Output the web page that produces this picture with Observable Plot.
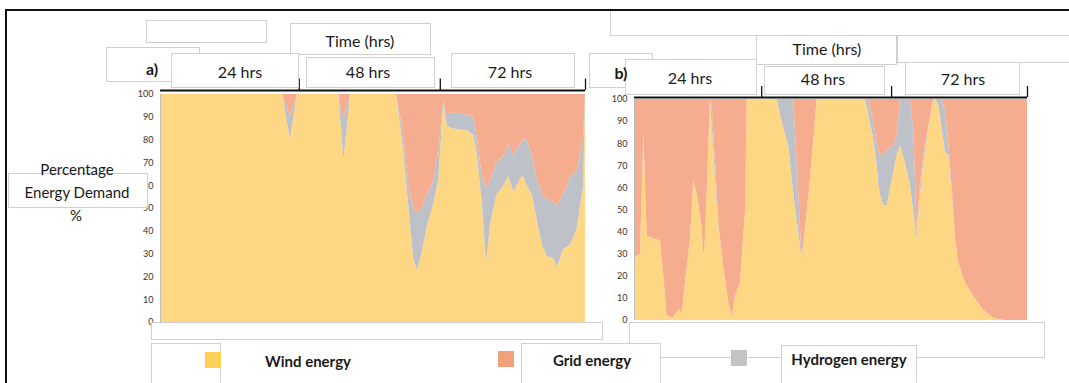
<!DOCTYPE html>
<html><head><meta charset="utf-8">
<script src="https://cdn.jsdelivr.net/npm/d3@7"></script>
<script src="https://cdn.jsdelivr.net/npm/@observablehq/plot@0.6"></script>
<style>
body{margin:0;background:#fff;}
#root{position:relative;width:1069px;height:383px;overflow:hidden;font-family:Lato,"Open Sans",sans-serif;color:#1a1a1a;background:#fff}
.frame{position:absolute;left:5px;top:9px;width:1100px;height:400px;border-top:2px solid #111;border-left:2px solid #111;box-sizing:border-box}
.box{position:absolute;background:#fff;border:1px solid #d0d0d0;box-sizing:border-box}
.lbl{position:absolute;white-space:nowrap;transform:translate(-50%,-50%);line-height:1}
.chart{position:absolute}
.sq{position:absolute;width:16px;height:16px}
</style></head><body><div id="root"></div>
<script>
// ---------- data ----------
const sources = ["Wind energy", "Hydrogen energy", "Grid energy"];
const fills = ["#FDD784", "#BFC1C8", "#F6AC8E"];
const legendFills = ["#FFD257", "#C3C3C3", "#F1A27C"];
const yTicks = [0,10,20,30,40,50,60,70,80,90,100];
const timeLabels = ["24 hrs", "48 hrs", "72 hrs"];

// panel a) time (hrs) and % shares
const hoursA = [0,20.7,22.0,23.2,30.2,31.1,32.2,40.0,41.2,42.1,42.9,43.5,44.3,45.2,46.3,47.1,48.0,48.6,49.5,52.0,53.1,53.6,54.5,55.1,55.3,55.9,57.0,58.2,59.0,59.9,60.4,61.0,61.5,62.1,63.0,63.8,64.7,65.5,66.6,67.2,68.3,69.5,70.6,71.7,72.0];
const windA  = [100,100,80,100,100,71,100,100,75,50,28,23,30,42,52,62,96,86,85,84,82,75,53,31,27,43,56,60,64,57,60,63,64,60,56,45,34,29,28,24,32,34,41,60,100];
const hydA   = [0,0,10,0,0,18,0,0,7,10,22,25,20,14,10,13,1,5,7,7,8,7,11,29,32,19,14,13,14,16,16,15,16,20,17,18,22,25,25,27,24,30,25,22,0];
const gridA  = [0,0,10,0,0,11,0,0,18,40,50,52,50,44,38,25,3,9,8,9,10,18,36,40,41,38,30,27,22,27,24,22,20,20,27,37,44,46,47,49,44,36,34,18,0];
const ticksA = [23.5, 47.4, 72];

// panel b)
const hoursB = [0,1.10,1.71,2.32,4.76,5.37,5.99,7.0,8.2,8.74,9.34,10.26,10.86,11.49,12.40,12.70,13.01,13.61,13.92,14.24,14.84,15.45,16.36,17.28,17.90,18.50,19.42,20.34,20.65,26.14,26.75,27.35,28.27,29.19,29.81,30.41,30.72,31.02,32.25,33.47,42.32,42.93,43.84,44.46,44.76,45.07,45.68,46.30,46.90,47.51,48.13,48.73,49.65,50.57,51.17,51.79,52.40,53.00,53.92,54.84,55.15,55.75,56.37,56.98,57.58,58.21,58.81,59.42,60.64,62.16,63.99,65.83,67.66,72];
const windB  = [28,30,85,38,36,20,2,1,5,3,17,37,63,57,42,29,37,79,100,88,64,42,24,8,1.5,11,17,49,100,100,93,87,79,57,45,33,29,34,64,100,100,93,82,70,62,57,52,52,60,67,75,79,71,61,49,37,57,71,87,100,100,97,87,76,75,57,37,26,17,11,4.5,1,0,0];
const hydB   = [0,0,0,0,0,0,0,0,0,0,0,0,0,0,0,0,0,0,0,8,8,2,0,0,0,0,0,0,0,0,7,13,21,43,26,9,0,0,0,0,0,7,8,10,14,18,23,25,18,12,9,21,29,39,38,3,5,4,1,0,0,3,13,19,5,3,0,0,0,0,0,0,0,0];
const gridB  = [72,70,15,62,64,80,98,99,95,97,83,63,37,43,58,71,63,21,0,4,28,56,76,92,98.5,89,83,51,0,0,0,0,0,0,29,58,71,66,36,0,0,0,10,20,24,25,25,23,22,21,16,0,0,0,13,60,38,25,12,0,0,0,0,5,20,40,63,74,83,89,95.5,99,100,100];
const ticksB = [23.3, 47.1, 72];

// ---------- helpers ----------
const root = document.getElementById("root");
function add(html){ root.insertAdjacentHTML("beforeend", html); }

function panel(hours, wind, hyd, grid, ticksTop, g) {
  const series = [wind, hyd, grid];
  const rows = [];
  hours.forEach((h, i) => sources.forEach((s, k) => rows.push({hour: h, source: s, value: series[k][i]})));
  return Plot.plot({
    width: g.width, height: g.height,
    marginLeft: g.ml, marginRight: g.mr, marginTop: g.mt, marginBottom: g.mb,
    x: {domain: [0, 72], axis: null},
    y: {domain: [0, 100], axis: null},
    color: {domain: sources, range: fills},
    style: {background: "transparent", overflow: "visible", fontFamily: "Lato, sans-serif", fontSize: "9px", color: "#333"},
    marks: [
      Plot.areaY(rows, {x: "hour", y: "value", fill: "source", order: sources, curve: "linear"}),
      Plot.ruleX([0], {stroke: "#bdbdbd", strokeWidth: 1}),
      Plot.axisY({ticks: yTicks, tickSize: 0, tickPadding: 7, fontSize: 9, fill: "#333", label: null}),
      Plot.ruleY([100], {x1: 0, x2: 72, dy: -g.lineOff, stroke: "#111", strokeWidth: 2}),
      Plot.ruleX(ticksTop, {y1: 100, y2: 100 + g.tickLen, dy: -g.lineOff, stroke: "#111", strokeWidth: 1.3})
    ]
  });
}

const chartA = panel(hoursA, windA, hydA, gridA, ticksA, {width: 475, height: 255, ml: 40, mr: 10, mt: 14, mb: 13, lineOff: 4, tickLen: 5});
const chartB = panel(hoursB, windB, hydB, gridB, ticksB, {width: 445, height: 245, ml: 40, mr: 12, mt: 14, mb: 10, lineOff: 2, tickLen: 5});
const da = document.createElement("div"); da.className = "chart"; da.style.left = "120px"; da.style.top = "80px"; da.appendChild(chartA); root.appendChild(da);
const db = document.createElement("div"); db.className = "chart"; db.style.left = "594px"; db.style.top = "85px"; db.appendChild(chartB); root.appendChild(db);

// text-box outlines (decorative, as in the source figure)
const boxes = [
  [146,20,121,23],[290,23,141,32],[106,47,94,35],[171,53,128,35],[306,57,129,31],[451,53,124,35],
  [610,10,470,26],[756,35,141,30],[897,35,180,28],[589,53,64,35],[625,59,132,36],[764,66,121,29],[905,62,115,33],
  [8,173,140,35],
  [151,322,452,18],[151,343,70,50],[629,322,416,36],[781,345,136,45],[521,343,140,45]
];
boxes.forEach(([l,t,w,h]) => add(`<div class="box" style="left:${l}px;top:${t}px;width:${w}px;height:${h}px"></div>`));
add('<div class="frame"></div>');

// panel headers
const hdrA = [[240,72],[368,72],[510,72]];
const hdrB = [[690,78],[823,79],[963,79]];
timeLabels.forEach((t,i) => {
  add(`<div class="lbl" style="left:${hdrA[i][0]}px;top:${hdrA[i][1]}px;font-size:16px">${t}</div>`);
  add(`<div class="lbl" style="left:${hdrB[i][0]}px;top:${hdrB[i][1]}px;font-size:16px">${t}</div>`);
});
add('<div class="lbl" style="left:360px;top:41px;font-size:16px">Time (hrs)</div>');
add('<div class="lbl" style="left:827px;top:49px;font-size:16px">Time (hrs)</div>');
add('<div class="lbl" style="left:152px;top:69px;font-size:16px;font-weight:700">a)</div>');
add('<div class="lbl" style="left:621px;top:73px;font-size:16px;font-weight:700">b)</div>');

// y label
add('<div class="lbl" style="left:77px;top:169px;font-size:15px">Percentage</div>');
add('<div class="lbl" style="left:77px;top:192px;font-size:15px">Energy Demand</div>');
add('<div class="lbl" style="left:76px;top:215px;font-size:15px">%</div>');

// legend
const legendPos = [[205,352,308],[731,350,849],[498,351,592]];
sources.forEach((s,i) => {
  const [x,y,tx] = legendPos[i];
  add(`<div class="sq" style="left:${x}px;top:${y}px;background:${legendFills[i]}"></div>`);
  add(`<div class="lbl" style="left:${tx}px;top:${y+9}px;font-size:15px;font-weight:700">${s}</div>`);
});
</script></body></html>
